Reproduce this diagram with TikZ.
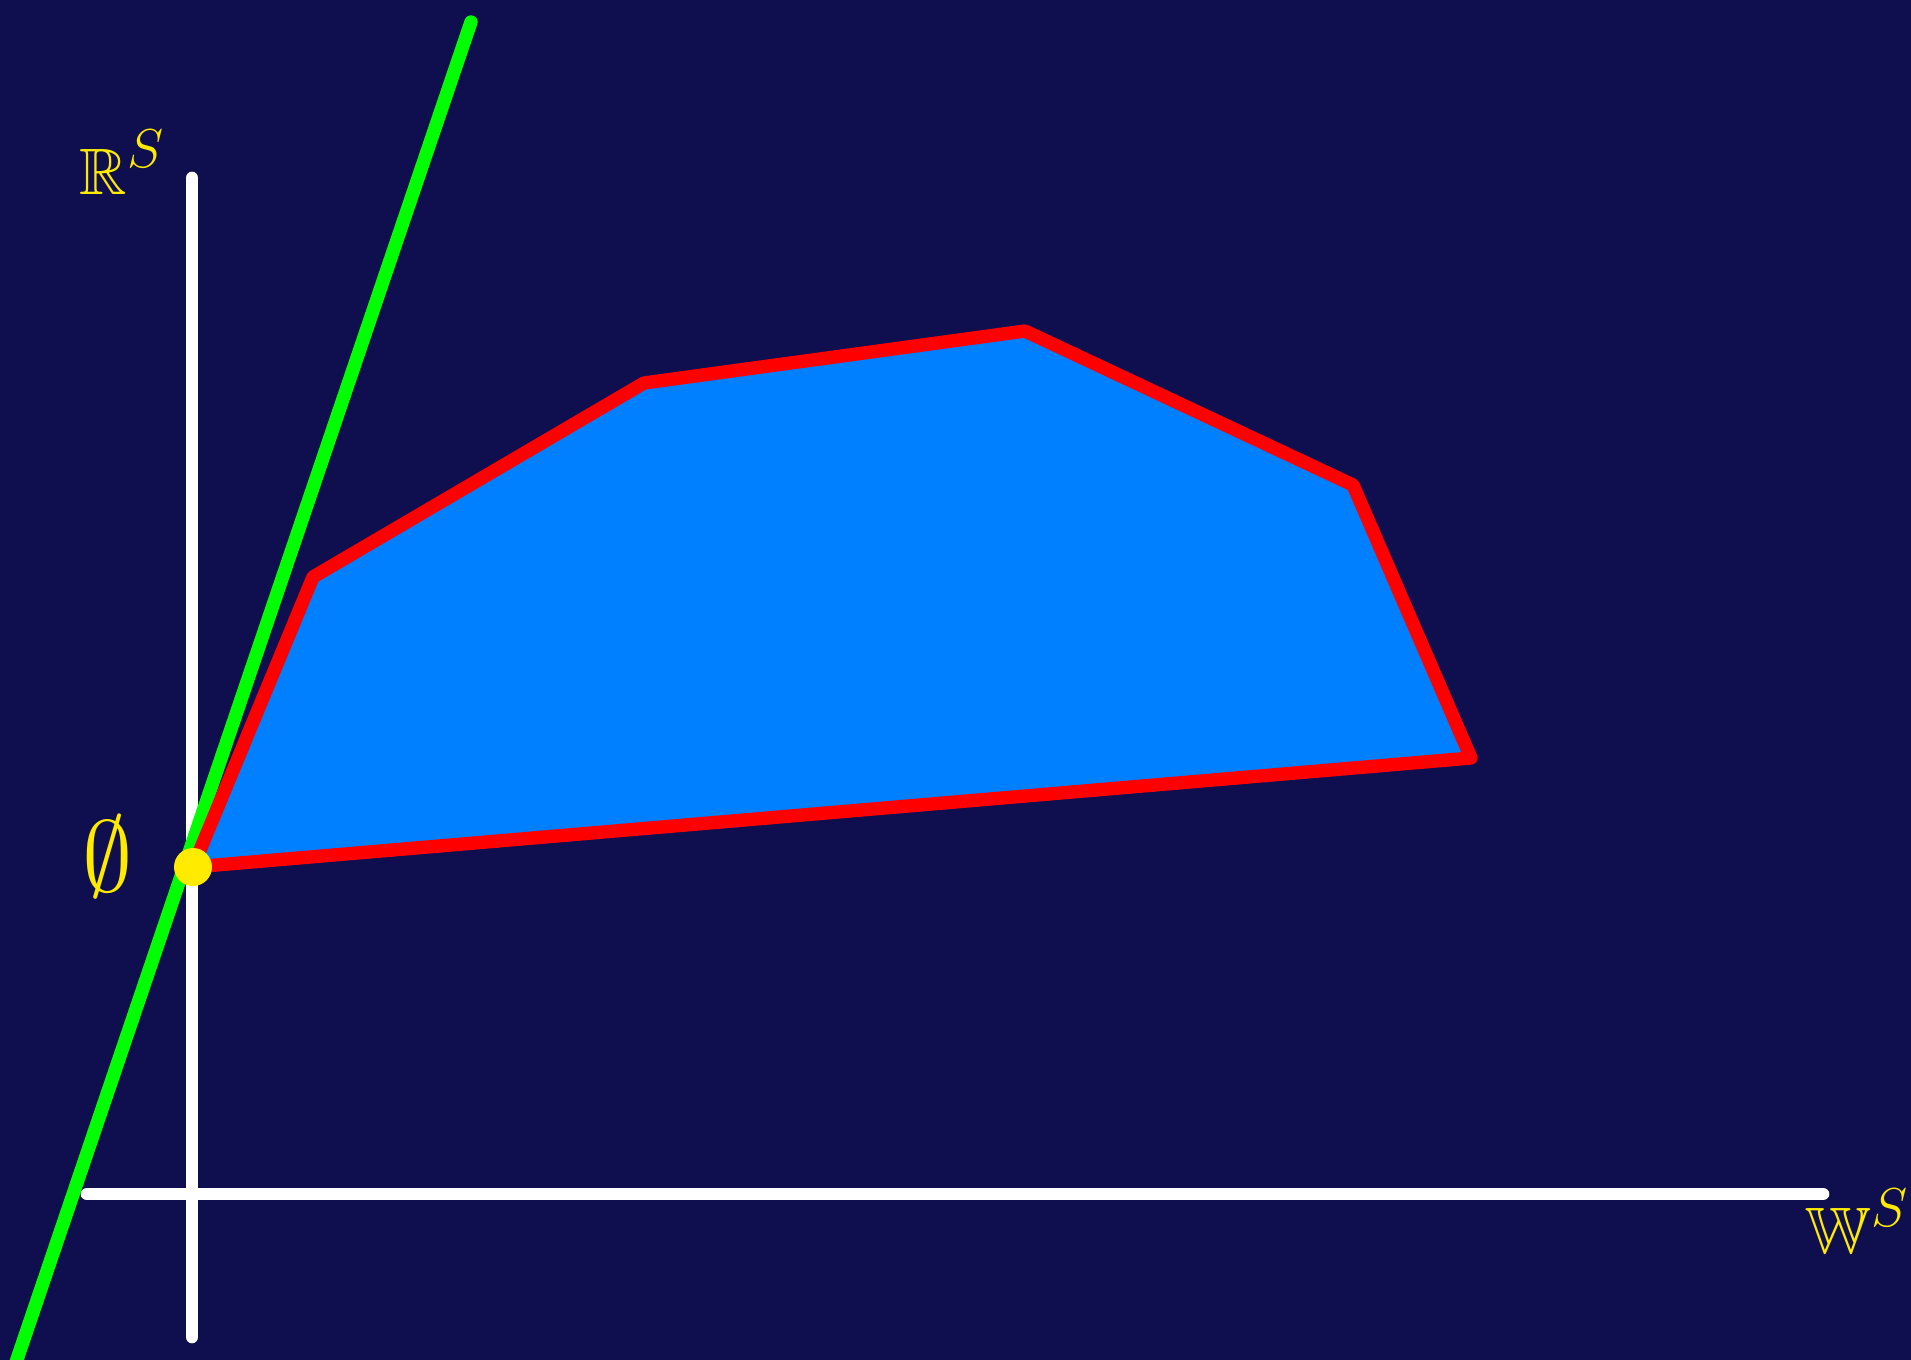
\documentclass[tikz,border=0pt]{standalone}
\usepackage{amssymb}
\definecolor{bgnavy}{RGB}{15,14,78}
\definecolor{setblue}{RGB}{0,127,255}
\definecolor{dotyellow}{RGB}{255,235,0}
\newcommand{\bigsup}[1]{^{\raisebox{1pt}{\LARGE$#1$}}}
\tikzset{
    axis/.style={white, line width=3.6pt, line cap=round},
    label/.style={text=dotyellow, inner sep=0pt},
}

\begin{document}
\begin{tikzpicture}[x=0.01cm, y=-0.01cm]
    % Fonas
    \clip (0,0) rectangle (1911,1360);
    \fill[bgnavy] (0,0) rectangle (1911,1360);

    % Ašys
    \draw[axis] (87,1194) -- (1823,1194);
    \draw[axis] (192,178) -- (192,1337);

    % Atraminė tiesė
    \draw[line width=3.8pt, green, line cap=round] (471,22) -- (10,1380);

    % Aibė
    \filldraw[fill=setblue, draw=red, line width=3.8pt, line join=round]
        (193,867) -- (313,577) -- (644,383) -- (1025,331)
        -- (1353,485) -- (1471,758) -- cycle;
    \fill[dotyellow] (193,867) circle (19);

    % Žymės
    \node[label, anchor=base west, scale=0.9] (rlabel) at (79,194) {\huge $\mathbb{R}\bigsup{S}$};
    \node[label, anchor=base west, scale=0.9] (wlabel) at (1805,1253) {\huge $\mathbb{W}\bigsup{S}$};
    \node[label, scale=1.15] (empty) at (108,857) {\Huge $\emptyset$};
\end{tikzpicture}
\end{document}
